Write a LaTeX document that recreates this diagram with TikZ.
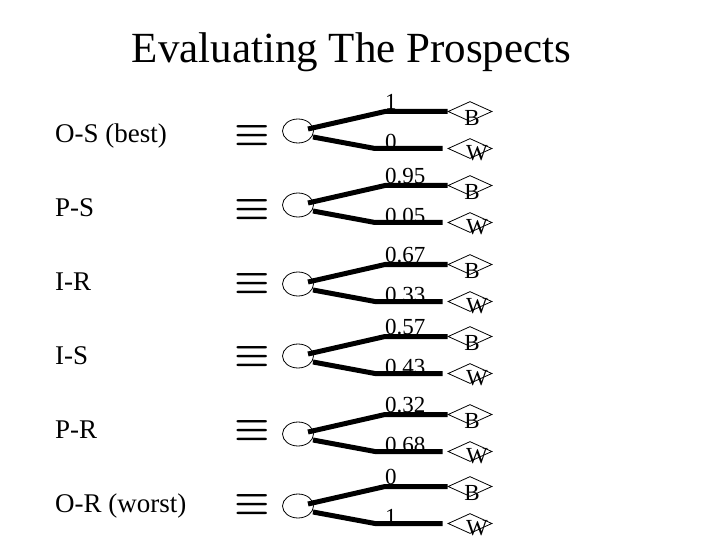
\documentclass[tikz,border=0pt]{standalone}
\usepackage{fontspec}
\setmainfont{Liberation Serif}
\usetikzlibrary{shapes.geometric}

\tikzset{
  chance/.style={draw,ellipse,line width=0.8bp,minimum width=31bp,minimum height=24bp,inner sep=0pt},
  outcome/.style={draw,diamond,line width=0.8bp,minimum width=44bp,minimum height=20bp,inner sep=0pt},
  branch/.style={line width=5bp},
  prob/.style={font=\fontsize{23bp}{23bp}\selectfont,inner sep=0pt,anchor=base west},
  letter/.style={font=\fontsize{23bp}{23bp}\selectfont,inner sep=0pt},
  prospect/.style={font=\fontsize{27bp}{27bp}\selectfont,inner sep=0pt,anchor=base west},
  same/.style={font=\fontsize{27bp}{27bp}\selectfont\boldmath,inner sep=0pt},
}

\begin{document}
\begin{tikzpicture}[x=1bp,y=-1bp]
\useasboundingbox (0,0) rectangle (720,540);
\node[font=\fontsize{43bp}{43bp}\selectfont,inner sep=0pt,anchor=base] (title) at (351.5,63) {Evaluating The Prospects};

\foreach \i/\y/\name/\pb/\pw [evaluate=\i as \yb using 143+73.8*(\i-1)] in
  {1/131/O-S (best)/1/0, 2/205/P-S/0.95/0.05, 3/284/I-R/0.67/0.33,
   4/356/I-S/0.57/0.43, 5/434/P-R/0.32/0.68, 6/506/O-R (worst)/0/1}{
  % prospect and its lottery
  \node[prospect] (r\i) at (55,\yb) {\name};
  \node[same] (e\i) at (252.5,\yb-7.5) {\scalebox{1.6}{$\equiv$}};
  \node[chance] (c\i) at (298,\y) {};
  \node[outcome] (b\i) at (470,\y-19.5) {};
  \node[outcome] (w\i) at (470,\y+17.5) {};
  \node[letter] (bl\i) at (472,\y-13) {B};
  \node[letter] (wl\i) at (477,\y+22.5) {W};
  \coordinate (ku\i) at (385,\y-19.5);
  \coordinate (kw\i) at (375,\y+17.5);
  \node[prob] (pb\i) at (385,\y-21.5) {\pb};
  \node[prob] (pw\i) at (385,\y+18.5) {\pw};
  \draw[branch] ([shift={(10,-2)}]c\i.center) -- (ku\i) -- (b\i.west);
  \draw[branch] ([shift={(15,6)}]c\i.center) -- (kw\i) -- ([xshift=-5bp]w\i.west);
}
\end{tikzpicture}
\end{document}
